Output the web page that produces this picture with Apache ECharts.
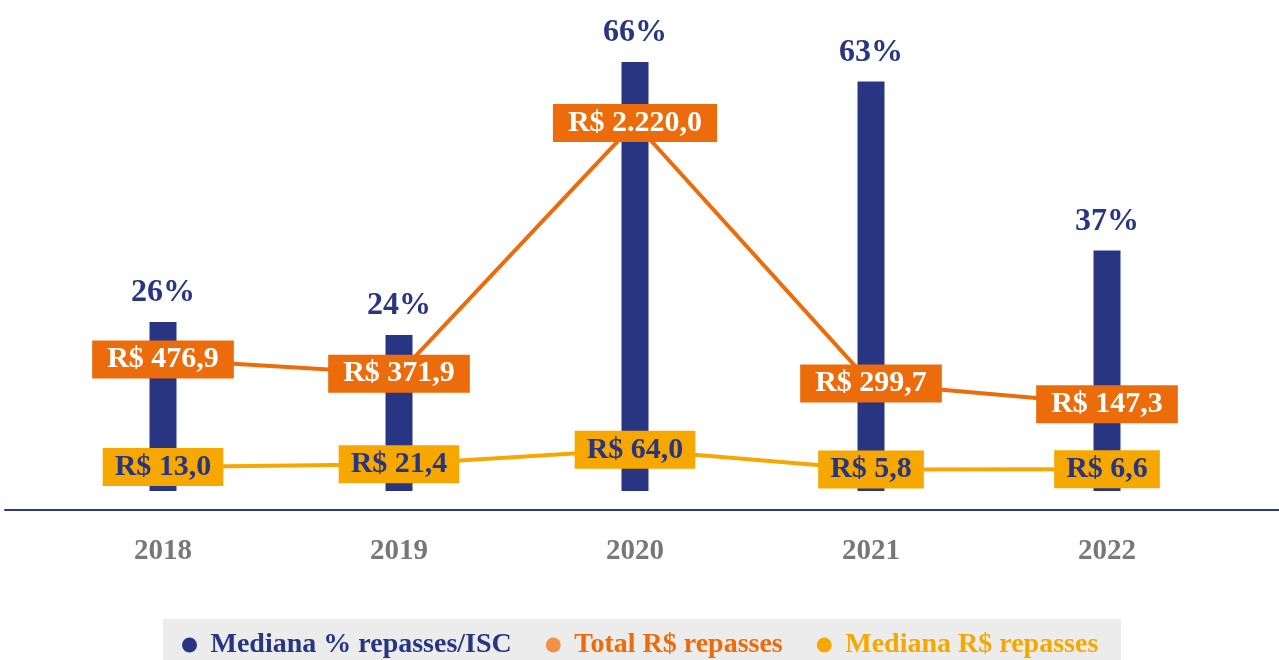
<!DOCTYPE html>
<html>
<head>
<meta charset="utf-8">
<script src="https://cdn.jsdelivr.net/npm/echarts@6/dist/echarts.min.js"></script>
<style>
html,body{margin:0;padding:0;background:#fff;}
#chart{width:1279px;height:660px;}
</style>
</head>
<body>
<div id="chart"></div>
<script>
const years = ['2018', '2019', '2020', '2021', '2022'];
const medianaPct = [26, 24, 66, 63, 37];
const totalRepasses = [476.9, 371.9, 2220.0, 299.7, 147.3];
const medianaRepasses = [13.0, 21.4, 64.0, 5.8, 6.6];
const seriesNames = ['Mediana % repasses/ISC', 'Total R$ repasses', 'Mediana R$ repasses'];

const NAVY = '#283583';
const ORANGE = '#EC6C0B';
const ORANGE_LIGHT = '#F0914A';
const YELLOW = '#F6A800';
const FONT = '"Liberation Serif", "DejaVu Serif", serif';

function brl(v) {
  const parts = v.toFixed(1).split('.');
  const intPart = parts[0].replace(/\B(?=(\d{3})+(?!\d))/g, '.');
  return 'R$ ' + intPart + ',' + parts[1];
}

const chart = echarts.init(document.getElementById('chart'));
chart.setOption({
  backgroundColor: '#ffffff',
  animation: false,
  graphic: [{
    type: 'rect',
    left: 163, top: 619,
    shape: { width: 958, height: 41 },
    style: { fill: '#ececec' },
    z: -1
  }],
  legend: {
    left: 177,
    top: 626,
    itemWidth: 32,
    itemHeight: 15,
    itemGap: 34,
    icon: 'circle',
    textStyle: { fontFamily: FONT, fontWeight: 'bold', fontSize: 28 },
    data: [
      { name: seriesNames[0], itemStyle: { color: NAVY }, textStyle: { color: NAVY } },
      { name: seriesNames[1], itemStyle: { color: ORANGE_LIGHT }, textStyle: { color: ORANGE } },
      { name: seriesNames[2], itemStyle: { color: YELLOW }, textStyle: { color: YELLOW } }
    ]
  },
  grid: [
    { left: 45, right: 54, top: 50, height: 460 },
    { left: 5, right: 0, top: 50, height: 460 }
  ],
  xAxis: [
    {
      type: 'category',
      gridIndex: 0,
      data: years,
      axisLine: { show: false },
      axisTick: { show: false },
      axisLabel: {
        margin: 27,
        color: '#777777',
        fontFamily: FONT,
        fontWeight: 'bold',
        fontSize: 29
      }
    },
    {
      type: 'value',
      gridIndex: 1,
      min: 0, max: 1,
      axisLine: { show: true, onZero: false, lineStyle: { color: '#2b3990', width: 2 } },
      axisTick: { show: false },
      axisLabel: { show: false },
      splitLine: { show: false }
    }
  ],
  yAxis: [
    { type: 'value', gridIndex: 0, show: false, min: -2.923, max: 67.846, splitLine: { show: false } },
    { type: 'value', gridIndex: 0, show: false, min: -632.4, max: 2758, splitLine: { show: false } },
    { type: 'value', gridIndex: 0, show: false, min: -113.2, max: 1239.7, splitLine: { show: false } },
    { type: 'value', gridIndex: 1, show: false, min: 0, max: 1, splitLine: { show: false } }
  ],
  series: [
    {
      name: seriesNames[0],
      type: 'bar',
      xAxisIndex: 0,
      yAxisIndex: 0,
      data: medianaPct,
      barWidth: 27,
      itemStyle: { color: NAVY },
      label: {
        show: true,
        position: 'top',
        distance: 13,
        color: NAVY,
        fontFamily: FONT,
        fontWeight: 'bold',
        fontSize: 32,
        formatter: p => p.value + '%'
      },
      z: 1
    },
    {
      name: seriesNames[1],
      type: 'line',
      xAxisIndex: 0,
      yAxisIndex: 1,
      data: totalRepasses,
      symbol: 'circle',
      symbolSize: 2,
      lineStyle: { color: ORANGE, width: 4 },
      itemStyle: { color: ORANGE },
      label: {
        show: true,
        position: 'inside',
        color: '#ffffff',
        backgroundColor: ORANGE,
        padding: [4, 15, 4, 15],
        lineHeight: 30,
        fontFamily: FONT,
        fontWeight: 'bold',
        fontSize: 30,
        formatter: p => brl(p.value)
      },
      z: 3
    },
    {
      name: seriesNames[2],
      type: 'line',
      xAxisIndex: 0,
      yAxisIndex: 2,
      data: medianaRepasses,
      symbol: 'circle',
      symbolSize: 2,
      lineStyle: { color: YELLOW, width: 4 },
      itemStyle: { color: YELLOW },
      label: {
        show: true,
        position: 'inside',
        color: NAVY,
        backgroundColor: YELLOW,
        padding: [4, 12, 4, 12],
        lineHeight: 30,
        fontFamily: FONT,
        fontWeight: 'bold',
        fontSize: 30,
        formatter: p => brl(p.value)
      },
      z: 2
    }
  ]
});
</script>
</body>
</html>
